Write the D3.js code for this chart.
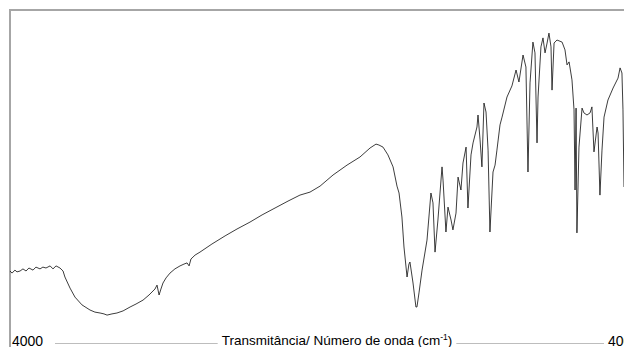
<!DOCTYPE html>
<html>
<head>
<meta charset="utf-8">
<script src="https://cdn.jsdelivr.net/npm/d3@7"></script>
<style>
  html, body { margin: 0; padding: 0; background: #fff; }
  svg { display: block; }
</style>
</head>
<body>
<div id="chart"></div>
<script>
const wavenumbers = [
  4000, 3988, 3971, 3959, 3941, 3924, 3906, 3889, 3865, 3848,
  3824, 3807, 3789, 3765, 3748, 3730, 3707, 3689, 3678, 3648,
  3619, 3578, 3531, 3502, 3472, 3449, 3431, 3402, 3373, 3337,
  3296, 3261, 3220, 3185, 3150, 3138, 3126, 3115, 3103, 3085,
  3062, 3033, 3003, 2980, 2962, 2950, 2939, 2915, 2886, 2816,
  2739, 2669, 2593, 2522, 2446, 2370, 2300, 2241, 2182, 2106,
  2024, 1948, 1889, 1854, 1837, 1813, 1784, 1754, 1731, 1719,
  1702, 1690, 1672, 1661, 1655, 1637, 1620, 1614, 1602, 1584,
  1555, 1532, 1520, 1508, 1491, 1467, 1461, 1444, 1432, 1414,
  1403, 1385, 1373, 1356, 1344, 1326, 1315, 1297, 1285, 1262,
  1256, 1244, 1233, 1221, 1209, 1197, 1186, 1168, 1156, 1145,
  1127, 1115, 1086, 1057, 1033, 1016, 992, 975, 963, 951,
  934, 922, 910, 904, 887, 875, 863, 851, 840, 828,
  822, 810, 793, 763, 746, 734, 722, 705, 693, 687,
  681, 676, 664, 646, 635, 617, 599, 588, 576, 558,
  552, 541, 529, 517, 494, 464, 435, 423, 412, 406,
  400
];
// Transmittance (arbitrary %) of each sampled point
const transmittance = [
  23.0, 22.3, 23.3, 22.7, 23.0, 23.7, 23.0, 24.0, 23.3, 24.3,
  23.7, 24.3, 24.0, 24.7, 23.7, 24.7, 24.0, 23.0, 21.0, 17.3,
  14.3, 11.7, 10.0, 9.3, 9.0, 8.7, 8.3, 8.7, 9.0, 9.7,
  11.0, 12.0, 13.3, 15.0, 17.0, 18.3, 15.0, 17.0, 19.0, 20.7,
  22.3, 23.7, 24.7, 25.3, 25.7, 24.7, 27.0, 28.3, 29.3, 32.0,
  34.7, 37.0, 39.3, 41.7, 44.0, 46.3, 48.3, 49.3, 51.3, 55.0,
  58.3, 61.0, 64.0, 65.3, 65.0, 64.3, 61.7, 57.7, 51.3, 49.0,
  41.0, 31.0, 21.0, 25.3, 26.0, 19.0, 11.0, 11.0, 15.7, 23.3,
  33.3, 49.0, 45.7, 29.3, 40.0, 57.7, 53.3, 36.0, 44.3, 40.0,
  36.7, 42.3, 54.3, 50.0, 59.0, 64.3, 44.0, 61.7, 65.7, 71.0,
  75.0, 66.7, 57.7, 79.0, 76.0, 63.3, 36.0, 56.0, 58.3, 63.3,
  71.7, 74.3, 81.0, 84.7, 90.0, 86.0, 95.0, 91.0, 56.0, 85.7,
  99.3, 95.7, 65.7, 81.0, 97.7, 100.7, 95.7, 99.0, 102.3, 97.7,
  83.3, 99.0, 100.0, 99.3, 96.7, 91.7, 92.7, 86.7, 76.7, 50.0,
  77.3, 35.7, 64.3, 77.3, 75.7, 75.0, 75.7, 77.7, 62.7, 71.0,
  69.0, 48.3, 63.3, 74.3, 80.0, 84.0, 87.3, 90.7, 89.0, 76.7,
  51.0
];
const tickLabels = ["4000", "400"];
const axisTitleMain = "Transmitância/ Número de onda (cm";
const axisTitleSup = "-1";
const axisTitleEnd = ")";

const W = 624, H = 347;
const svg = d3.select("#chart").append("svg")
  .attr("width", W).attr("height", H)
  .style("font-family", "'Liberation Sans', Arial, sans-serif");

svg.append("rect").attr("width", W).attr("height", H).attr("fill", "#fff");

const x = d3.scaleLinear().domain([4000, 400]).range([10, 624]);
const y = d3.scaleLinear().domain([0, 110]).range([340, 10]);

// chart frame (left and top visible)
svg.append("path")
  .attr("d", `M10,${H}V10H${W + 2}`)
  .attr("fill", "none")
  .attr("stroke", "#a6a6a6")
  .attr("stroke-width", 2);

// bottom axis line
svg.append("line")
  .attr("x1", 55).attr("x2", 604)
  .attr("y1", 343.5).attr("y2", 343.5)
  .attr("stroke", "#bdbdbd").attr("stroke-width", 1);

const data = wavenumbers.map((w, i) => ({ w, t: transmittance[i] }));

svg.append("path")
  .datum(data)
  .attr("fill", "none")
  .attr("stroke", "#1a1a1a")
  .attr("stroke-width", 0.85)
  .attr("stroke-linejoin", "round")
  .attr("d", d3.line().x(d => x(d.w)).y(d => y(d.t)));

// tick labels
svg.append("text")
  .attr("x", 12).attr("y", 346)
  .attr("font-size", 14).attr("fill", "#000")
  .text(tickLabels[0]);
svg.append("text")
  .attr("x", 608).attr("y", 346)
  .attr("font-size", 14).attr("fill", "#000")
  .text(tickLabels[1]);

// axis title with white background
const tg = svg.append("g");
const bg = tg.append("rect").attr("fill", "#fff");
const title = tg.append("text")
  .attr("x", 337).attr("y", 345)
  .attr("text-anchor", "middle")
  .attr("font-size", 13.5).attr("fill", "#000");
title.append("tspan").text(axisTitleMain);
title.append("tspan").attr("dy", -5).attr("font-size", 8.5).text(axisTitleSup);
title.append("tspan").attr("dy", 5).text(axisTitleEnd);
const bb = title.node().getBBox();
bg.attr("x", bb.x - 4).attr("y", bb.y).attr("width", bb.width + 8).attr("height", bb.height);
</script>
</body>
</html>
